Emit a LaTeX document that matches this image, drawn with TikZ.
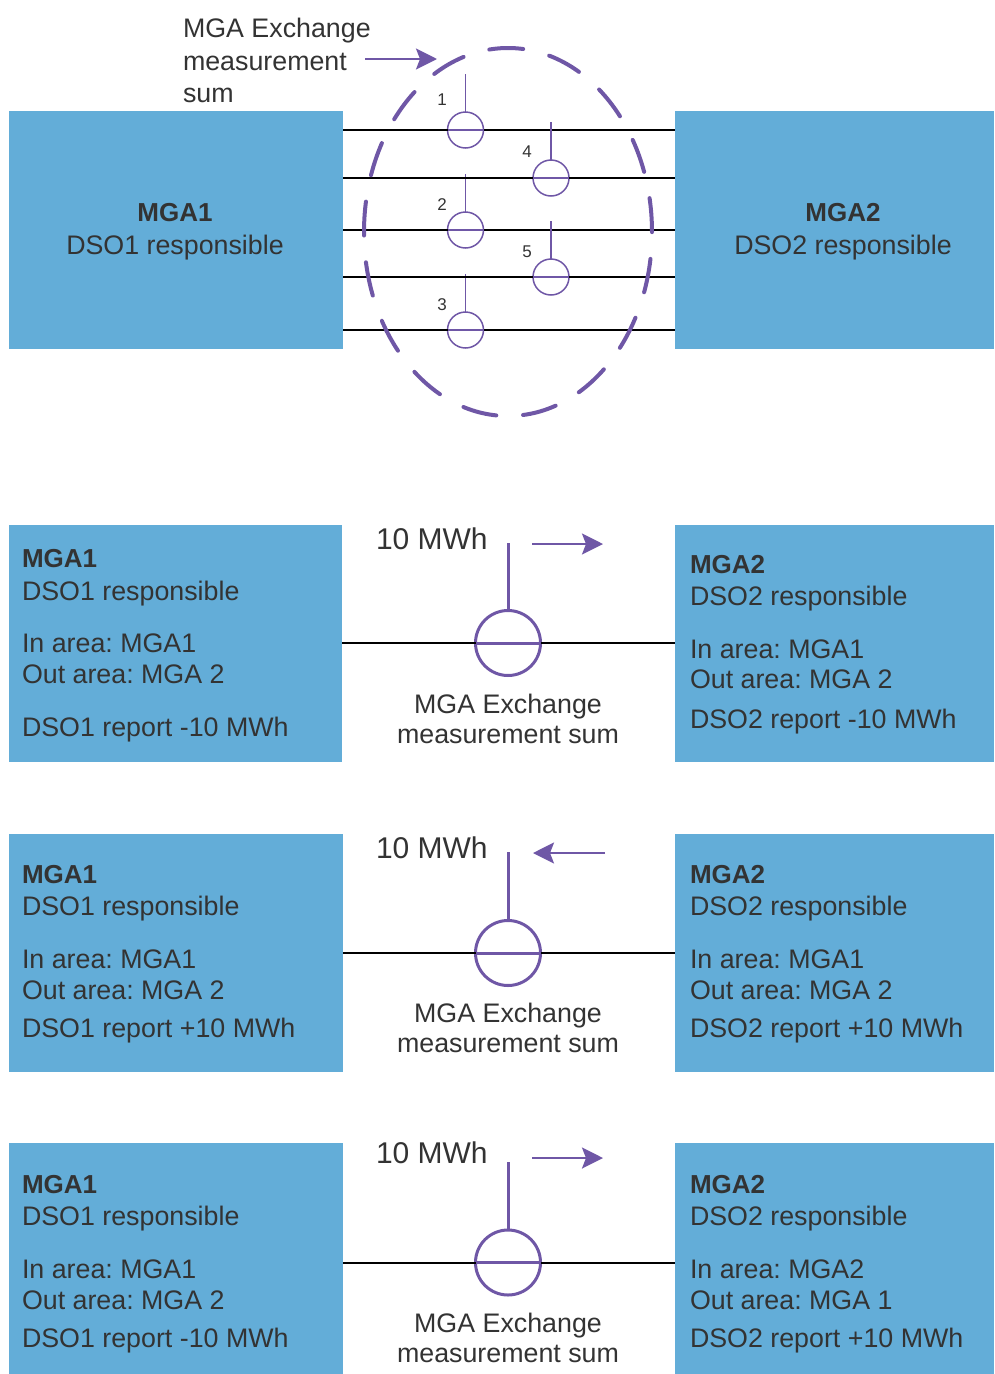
\documentclass[tikz,border=0pt]{standalone}
\usepackage{fontspec}
\setmainfont{Liberation Sans}
\usetikzlibrary{arrows.meta}
\definecolor{boxblue}{RGB}{99,173,216}
\definecolor{mpurple}{RGB}{111,87,166}
\definecolor{tgray}{RGB}{51,51,51}
\frenchspacing
\begin{document}
\begin{tikzpicture}[x=1pt,y=1pt,
  area/.style={rectangle, fill=boxblue, draw=none, inner sep=0pt, outer sep=0pt},
  txt/.style={font=\fontsize{26.8}{30}\selectfont, text=tgray, inner sep=0pt, outer sep=0pt, anchor=base west},
  txtc/.style={txt, anchor=base},
  btxt/.style={txt, font=\fontsize{26}{30}\selectfont\bfseries},
  valtxt/.style={txt, font=\fontsize{30}{32}\selectfont},
  numtxt/.style={font=\fontsize{17}{20}\selectfont, text=tgray, inner sep=0pt},
  wire/.style={draw=black, line width=2pt},
  meter/.style={circle, draw=mpurple, line width=3pt, minimum size=65pt, inner sep=0pt, outer sep=0pt},
  smeter/.style={circle, draw=mpurple, line width=1.5pt, minimum size=36pt, inner sep=0pt, outer sep=0pt},
  stem/.style={draw=mpurple, line width=3pt},
  sstem/.style={draw=mpurple, line width=1.5pt},
  flow/.style={draw=mpurple, line width=2.5pt, -{Stealth[length=21pt,width=21pt,inset=4pt]}},
]
\useasboundingbox (0,0) rectangle (994,-1374);

% ===== Top section =====
\node[area, minimum width=334pt, minimum height=238pt] (L0) at (176,-230) {};
\node[area, minimum width=319pt, minimum height=238pt] (R0) at (834.5,-230) {};
\node[btxt, anchor=base] (L0a) at (175,-221) {MGA1};
\node[txtc] (L0b) at (175,-254) {DSO1 responsible};
\node[btxt, anchor=base] (R0a) at (843,-221) {MGA2};
\node[txtc] (R0b) at (843,-254) {DSO2 responsible};

\node[txt] (T0a) at (183,-37) {MGA Exchange};
\node[txt] (T0b) at (183,-70) {measurement};
\node[txt] (T0c) at (183,-102) {sum};
\coordinate (A0s) at (365,-59);
\coordinate (A0e) at (437,-59);
\draw[flow] (A0s) -- (A0e);

\node[smeter] (m1) at (465.5,-130) {};
\node[smeter] (m4) at (551,-178) {};
\node[smeter] (m2) at (465.5,-230) {};
\node[smeter] (m5) at (551,-277) {};
\node[smeter] (m3) at (465.5,-330) {};
\foreach \m in {m1,m2,m3,m4,m5}{
  \draw[wire] (L0.east |- \m) -- (\m.west);
  \draw[wire] (\m.east) -- (R0.west |- \m);
  \draw[mpurple, line width=2pt] (\m.west) -- (\m.east);
  \draw[sstem] (\m.north) -- ++(0,38);
}
\node[numtxt] (n1) at (442,-100) {1};
\node[numtxt] (n4) at (527,-152) {4};
\node[numtxt] (n2) at (442,-205) {2};
\node[numtxt] (n5) at (527,-252) {5};
\node[numtxt] (n3) at (442,-305) {3};

\draw[mpurple, line width=4pt, line cap=round, dash pattern=on 34pt off 26.84pt]
  (508,-232) ellipse [x radius=144pt, y radius=184pt];

% ===== Section 2 =====
\node[area, minimum width=333pt, minimum height=237pt] (L1) at (175.5,-643.5) {};
\node[area, minimum width=319pt, minimum height=237pt] (R1) at (834.5,-643.5) {};
\node[btxt] (L1a) at (22,-567) {MGA1};
\node[txt] (L1b) at (22,-600) {DSO1 responsible};
\node[txt] (L1c) at (22,-652) {In area: MGA1};
\node[txt] (L1d) at (22,-683) {Out area: MGA 2};
\node[txt] (L1e) at (22,-736) {DSO1 report -10 MWh};
\node[btxt] (R1a) at (690,-573) {MGA2};
\node[txt] (R1b) at (690,-605) {DSO2 responsible};
\node[txt] (R1c) at (690,-658) {In area: MGA1};
\node[txt] (R1d) at (690,-688) {Out area: MGA 2};
\node[txt] (R1e) at (690,-728) {DSO2 report -10 MWh};
\node[meter] (M1) at (508,-643) {};
\draw[wire] (L1.east |- M1) -- (M1.west);
\draw[wire] (M1.east) -- (R1.west |- M1);
\draw[mpurple, line width=3pt] (M1.west) -- (M1.east);
\draw[stem] (M1.north) -- (M1.north |- 0,-543);
\node[valtxt] (V1) at (376,-549) {10 MWh};
\coordinate (A1s) at (532,-544);
\coordinate (A1e) at (603,-544);
\draw[flow] (A1s) -- (A1e);
\node[txtc] (C1a) at (508,-713) {MGA Exchange};
\node[txtc] (C1b) at (508,-743) {measurement sum};

% ===== Section 3 =====
\node[area, minimum width=334pt, minimum height=238pt] (L2) at (176,-953) {};
\node[area, minimum width=319pt, minimum height=238pt] (R2) at (834.5,-953) {};
\node[btxt] (L2a) at (22,-883) {MGA1};
\node[txt] (L2b) at (22,-915) {DSO1 responsible};
\node[txt] (L2c) at (22,-968) {In area: MGA1};
\node[txt] (L2d) at (22,-999) {Out area: MGA 2};
\node[txt] (L2e) at (22,-1037) {DSO1 report +10 MWh};
\node[btxt] (R2a) at (690,-883) {MGA2};
\node[txt] (R2b) at (690,-915) {DSO2 responsible};
\node[txt] (R2c) at (690,-968) {In area: MGA1};
\node[txt] (R2d) at (690,-999) {Out area: MGA 2};
\node[txt] (R2e) at (690,-1037) {DSO2 report +10 MWh};
\node[meter] (M2) at (508,-953) {};
\draw[wire] (L2.east |- M2) -- (M2.west);
\draw[wire] (M2.east) -- (R2.west |- M2);
\draw[mpurple, line width=3pt] (M2.west) -- (M2.east);
\draw[stem] (M2.north) -- (M2.north |- 0,-852);
\node[valtxt] (V2) at (376,-858) {10 MWh};
\coordinate (A2s) at (605,-853);
\coordinate (A2e) at (533,-853);
\draw[flow] (A2s) -- (A2e);
\node[txtc] (C2a) at (508,-1022) {MGA Exchange};
\node[txtc] (C2b) at (508,-1052) {measurement sum};

% ===== Section 4 =====
\node[area, minimum width=334pt, minimum height=231pt] (L3) at (176,-1258.5) {};
\node[area, minimum width=319pt, minimum height=231pt] (R3) at (834.5,-1258.5) {};
\node[btxt] (L3a) at (22,-1193) {MGA1};
\node[txt] (L3b) at (22,-1225) {DSO1 responsible};
\node[txt] (L3c) at (22,-1278) {In area: MGA1};
\node[txt] (L3d) at (22,-1309) {Out area: MGA 2};
\node[txt] (L3e) at (22,-1347) {DSO1 report -10 MWh};
\node[btxt] (R3a) at (690,-1193) {MGA2};
\node[txt] (R3b) at (690,-1225) {DSO2 responsible};
\node[txt] (R3c) at (690,-1278) {In area: MGA2};
\node[txt] (R3d) at (690,-1309) {Out area: MGA 1};
\node[txt] (R3e) at (690,-1347) {DSO2 report +10 MWh};
\node[meter] (M3) at (508,-1262.5) {};
\draw[wire] (L3.east |- M3) -- (M3.west);
\draw[wire] (M3.east) -- (R3.west |- M3);
\draw[mpurple, line width=3pt] (M3.west) -- (M3.east);
\draw[stem] (M3.north) -- (M3.north |- 0,-1162);
\node[valtxt] (V3) at (376,-1163) {10 MWh};
\coordinate (A3s) at (532,-1158);
\coordinate (A3e) at (603,-1158);
\draw[flow] (A3s) -- (A3e);
\node[txtc] (C3a) at (508,-1332) {MGA Exchange};
\node[txtc] (C3b) at (508,-1362) {measurement sum};
\end{tikzpicture}
\end{document}
